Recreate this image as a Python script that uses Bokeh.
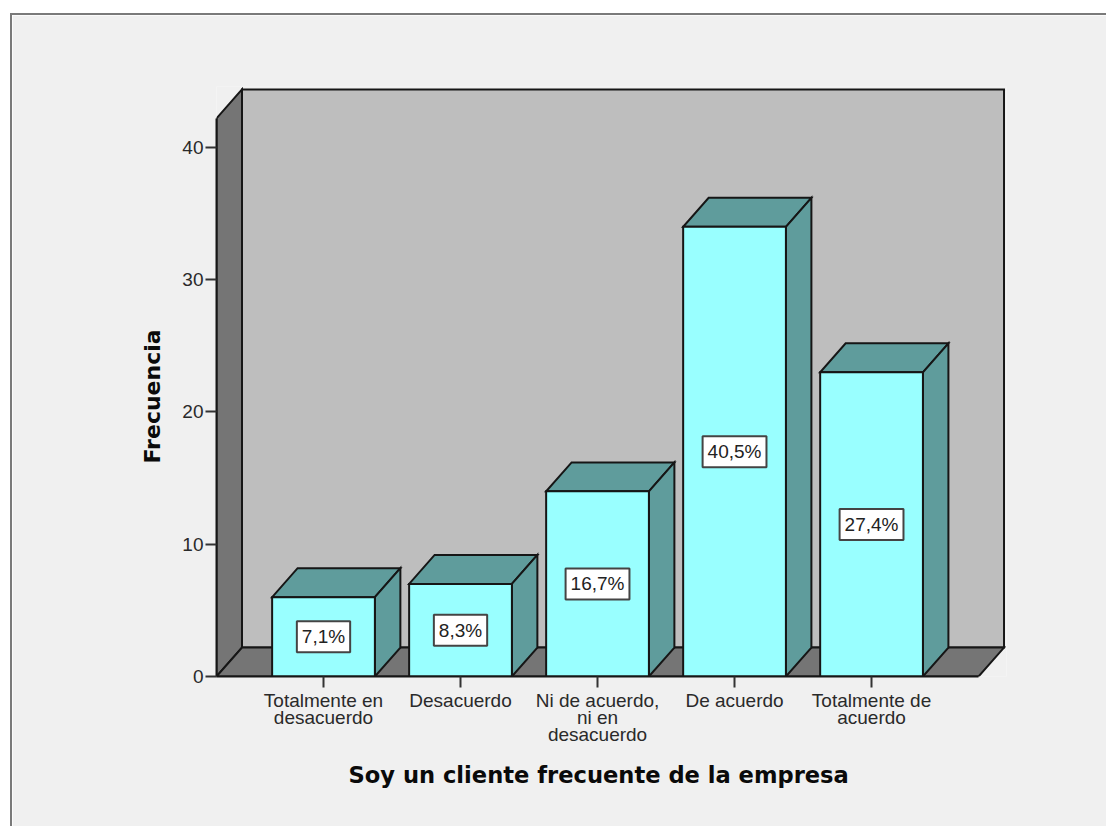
from bokeh.plotting import figure
from bokeh.models import FixedTicker, ColumnDataSource, Title
from bokeh.embed import file_html
from bokeh.resources import INLINE
from bokeh.core.properties import value

categories = ["Totalmente en\ndesacuerdo", "Desacuerdo", "Ni de acuerdo,\nni en\ndesacuerdo", "De acuerdo", "Totalmente de\nacuerdo"]
frequencies = [6, 7, 14, 34, 23]
percent_labels = ["7,1%", "8,3%", "16,7%", "40,5%", "27,4%"]
y_ticks = [0, 10, 20, 30, 40]
x_title = "Soy un cliente frecuente de la empresa"
y_title = "Frecuencia"

FRONT = "#99ffff"
SHADE = "#5f9c9c"
WALL = "#bebebe"
DARK = "#757575"
PANEL = "#f0f0f0"
INK = "#161616"
FONT = "Liberation Sans"

bar_w = 0.75
dx = 0.186          # 3-D depth in category units
dy = 2.19           # 3-D depth in frequency units
x_lo, x_hi = -0.781, 4.781
y_top = 42.2

p = figure(width=1094, height=811, output_backend="svg", toolbar_location=None,
           x_range=(x_lo, 4.985), y_range=(0, 44.61),
           frame_width=790, frame_height=590,
           min_border_left=204, min_border_right=100, min_border_top=71, min_border_bottom=150,
           border_fill_color=PANEL, background_fill_color=PANEL, outline_line_color=None,
           styles={"margin-left": "10px", "margin-top": "13px",
                   "border-left": "2px solid #7a7a7a", "border-top": "2px solid #7a7a7a"})
p.grid.visible = False

style = dict(line_color=INK, line_width=2, line_join="miter")

# walls and floor
p.patches([[x_lo + dx, x_hi + dx, x_hi + dx, x_lo + dx]], [[0 + dy, 0 + dy, y_top + dy, y_top + dy]], fill_color=WALL, **style)
p.patches([[x_lo, x_lo + dx, x_lo + dx, x_lo]], [[0, dy, y_top + dy, y_top]], fill_color=DARK, **style)
p.patches([[x_lo, x_hi, x_hi + dx, x_lo + dx]], [[0, 0, dy, dy]], fill_color=DARK, **style)

# bars
xs = list(range(len(frequencies)))
lefts = [x - bar_w / 2 for x in xs]
rights = [x + bar_w / 2 for x in xs]
p.patches([[l, r, r + dx, l + dx] for l, r in zip(lefts, rights)],
          [[v, v, v + dy, v + dy] for v in frequencies], fill_color=SHADE, **style)
p.patches([[r, r + dx, r + dx, r] for r in rights],
          [[0, dy, v + dy, v] for v in frequencies], fill_color=SHADE, **style)
p.quad(left=lefts, right=rights, bottom=0, top=frequencies, fill_color=FRONT, **style)

src = ColumnDataSource(dict(x=xs, y=[v / 2 for v in frequencies], t=percent_labels))
p.text("x", "y", text="t", source=src, text_align="center", text_baseline="middle",
       text_font=value(FONT), text_font_size="19px", text_color="#222222",
       background_fill_color="white", border_line_color="#444444", border_line_width=2, padding=(5, 5))

ax = p.xaxis[0]
ax.ticker = FixedTicker(ticks=xs)
ax.major_label_overrides = {i: c for i, c in enumerate(categories)}
ax.bounds = (x_lo, x_hi)
ay = p.yaxis[0]
ay.ticker = FixedTicker(ticks=y_ticks)
ay.bounds = (0, y_top)
for a in (ax, ay):
    a.minor_tick_line_color = None
    a.major_tick_in = 0
    a.major_tick_out = 11
    a.major_tick_line_color = "#333333"
    a.major_tick_line_width = 2
    a.axis_line_color = INK
    a.axis_line_width = 2
    a.major_label_text_font = FONT
    a.major_label_text_font_size = "19px"
    a.major_label_text_color = "#2a2a2a"
    a.major_label_standoff = 2
ax.major_label_text_line_height = 0.82

title_style = dict(text_font="DejaVu Sans", text_font_style="bold",
                   text_color="#0a0a0a", align="left")
p.add_layout(Title(text=x_title, offset=132, standoff=24, text_font_size="22.6px", **title_style), "below")
p.add_layout(Title(text=y_title, offset=213, standoff=29, text_font_size="22px", **title_style), "left")

open("out.html", "w").write(file_html(p, INLINE))
